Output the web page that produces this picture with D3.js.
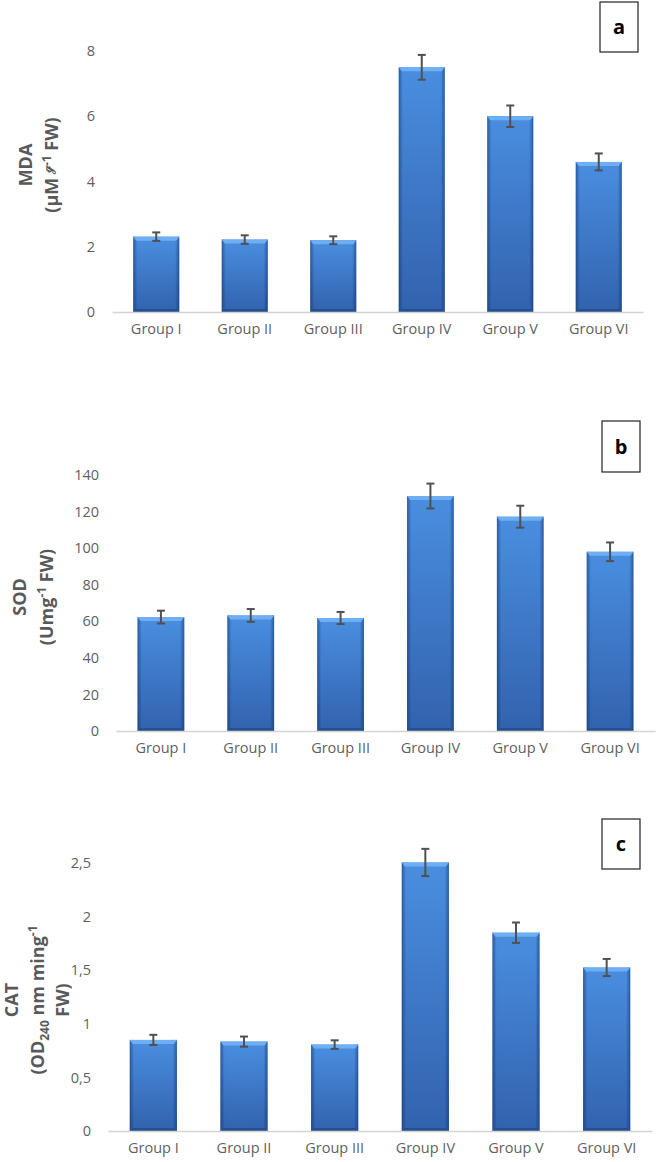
<!DOCTYPE html>
<html>
<head>
<meta charset="utf-8">
<script src="https://cdn.jsdelivr.net/npm/d3@7"></script>
<style>
  body { margin: 0; background: #fff; }
  svg { display: block; font-family: "Open Sans", sans-serif; }
</style>
</head>
<body>
<div id="wrapper"></div>
<script>
// Data
const groups = ["Group I", "Group II", "Group III", "Group IV", "Group V", "Group VI"];

const mdaValues = [2.31, 2.22, 2.2, 7.5, 6.0, 4.6];
const mdaErrors = [0.13, 0.13, 0.12, 0.38, 0.33, 0.26];
const mdaTicks = [0, 2, 4, 6, 8];

const sodValues = [62.3, 63.2, 61.8, 128.5, 117.2, 98];
const sodErrors = [3.5, 3.5, 3.3, 6.8, 6.0, 5.1];
const sodTicks = [0, 20, 40, 60, 80, 100, 120, 140];

const catValues = [0.85, 0.834, 0.806, 2.505, 1.85, 1.525];
const catErrors = [0.047, 0.047, 0.04, 0.127, 0.095, 0.08];
const catTicks = [0, 0.5, 1, 1.5, 2, 2.5];

function drawFigure() {
  const width = 657;
  const height = 1162;

  const wrapper = d3
    .select("#wrapper")
    .append("svg")
    .attr("width", width)
    .attr("height", height);

  // Bar gradients (Excel bevel look)
  const defs = wrapper.append("defs");
  const bodyGrad = defs
    .append("linearGradient")
    .attr("id", "bodyGrad")
    .attr("x1", 0).attr("y1", 0).attr("x2", 0).attr("y2", 1);
  bodyGrad.append("stop").attr("offset", "0%").attr("stop-color", "#4a8ee0");
  bodyGrad.append("stop").attr("offset", "100%").attr("stop-color", "#3262ae");

  const edgeGrad = defs
    .append("linearGradient")
    .attr("id", "edgeGrad")
    .attr("x1", 0).attr("y1", 0).attr("x2", 1).attr("y2", 0);
  edgeGrad.append("stop").attr("offset", "0%").attr("stop-color", "#0a2a60").attr("stop-opacity", 0.5);
  edgeGrad.append("stop").attr("offset", "9%").attr("stop-color", "#0a2a60").attr("stop-opacity", 0);
  edgeGrad.append("stop").attr("offset", "91%").attr("stop-color", "#0a2a60").attr("stop-opacity", 0);
  edgeGrad.append("stop").attr("offset", "100%").attr("stop-color", "#0a2a60").attr("stop-opacity", 0.5);

  const panels = [
    {
      values: mdaValues, errors: mdaErrors, ticks: mdaTicks, letter: "a",
      x0: 112, x1: 643, yBase: 312, yTop: 51,
      title: { cy: 165, lines: [
        { x: 26, parts: [["MDA"]] },
        { x: 52, parts: [["(µM "], ["ℊ", "sup"], ["-1", "sup"], [" FW)"]] }
      ] },
      box: { x: 600, y: 2, w: 38, h: 50 },
      format: (d) => d
    },
    {
      values: sodValues, errors: sodErrors, ticks: sodTicks, letter: "b",
      x0: 116, x1: 655, yBase: 731, yTop: 475,
      title: { cy: 597, lines: [
        { x: 20, parts: [["SOD"]] },
        { x: 47, parts: [["(Umg"], ["-1", "sup"], [" FW)"]] }
      ] },
      box: { x: 602, y: 421, w: 38, h: 51 },
      format: (d) => d
    },
    {
      values: catValues, errors: catErrors, ticks: catTicks, letter: "c",
      x0: 108, x1: 652, yBase: 1131, yTop: 863,
      title: { cy: 1000, lines: [
        { x: 12, parts: [["CAT"]] },
        { x: 38, parts: [["(OD"], ["240", "sub"], [" nm ming"], ["-1", "sup"]] },
        { x: 63, parts: [["FW)"]] }
      ] },
      box: { x: 602, y: 819, w: 38, h: 50 },
      format: (d) => String(d).replace(".", ",")
    }
  ];

  panels.forEach((p) => drawPanel(wrapper, p));
}

function drawPanel(svg, p) {
  const g = svg.append("g");

  // Scales
  const xScale = d3
    .scaleBand()
    .domain(groups)
    .range([p.x0, p.x1])
    .paddingInner(0.48)
    .paddingOuter(0.24);

  const yScale = d3
    .scaleLinear()
    .domain([0, d3.max(p.ticks)])
    .range([p.yBase, p.yTop]);

  // Y axis (labels only)
  const yAxis = g
    .append("g")
    .attr("transform", `translate(${p.x0},0)`)
    .call(
      d3.axisLeft(yScale).tickValues(p.ticks).tickSize(0).tickPadding(17).tickFormat(p.format)
    );
  yAxis.select(".domain").remove();
  yAxis
    .selectAll("text")
    .style("font-family", "'Open Sans', sans-serif")
    .style("font-size", "14.5px")
    .attr("fill", "#5f5f5f");

  // Bars
  const bw = xScale.bandwidth();
  const bars = g
    .selectAll(".bar")
    .data(p.values)
    .enter()
    .append("g")
    .attr("class", "bar");

  bars
    .append("rect")
    .attr("x", (d, i) => xScale(groups[i]))
    .attr("y", (d) => yScale(d))
    .attr("width", bw)
    .attr("height", (d) => p.yBase - yScale(d))
    .attr("fill", "url(#bodyGrad)");

  bars
    .append("rect")
    .attr("x", (d, i) => xScale(groups[i]))
    .attr("y", (d) => yScale(d))
    .attr("width", bw)
    .attr("height", (d) => p.yBase - yScale(d))
    .attr("fill", "url(#edgeGrad)");

  // top bevel
  bars
    .append("path")
    .attr("d", (d, i) => {
      const x = xScale(groups[i]);
      const y = yScale(d);
      return `M${x},${y}H${x + bw}L${x + bw - 3},${y + 4}H${x + 3}Z`;
    })
    .attr("fill", "#6eaef2");

  // bottom bevel
  bars
    .append("path")
    .attr("d", (d, i) => {
      const x = xScale(groups[i]);
      return `M${x},${p.yBase}H${x + bw}L${x + bw - 3},${p.yBase - 3}H${x + 3}Z`;
    })
    .attr("fill", "#24508f");

  // Error bars
  const errs = g
    .selectAll(".err")
    .data(p.values)
    .enter()
    .append("g")
    .attr("class", "err")
    .attr("stroke", "#505050")
    .attr("stroke-width", 2);

  const cx = (i) => xScale(groups[i]) + bw / 2;
  errs
    .append("line")
    .attr("x1", (d, i) => cx(i))
    .attr("x2", (d, i) => cx(i))
    .attr("y1", (d, i) => yScale(d + p.errors[i]))
    .attr("y2", (d, i) => yScale(d - p.errors[i]));
  errs
    .append("line")
    .attr("x1", (d, i) => cx(i) - 4)
    .attr("x2", (d, i) => cx(i) + 4)
    .attr("y1", (d, i) => yScale(d + p.errors[i]))
    .attr("y2", (d, i) => yScale(d + p.errors[i]));
  errs
    .append("line")
    .attr("x1", (d, i) => cx(i) - 4)
    .attr("x2", (d, i) => cx(i) + 4)
    .attr("y1", (d, i) => yScale(d - p.errors[i]))
    .attr("y2", (d, i) => yScale(d - p.errors[i]));

  // X axis
  const xAxis = g
    .append("g")
    .attr("transform", `translate(0,${p.yBase})`)
    .call(d3.axisBottom(xScale).tickSize(0).tickSizeOuter(0).tickPadding(12));
  xAxis.select(".domain").attr("stroke", "#d4d4d4").attr("stroke-width", 1.5);
  xAxis
    .selectAll("text")
    .style("font-family", "'Open Sans', sans-serif")
    .style("font-size", "14.5px")
    .attr("fill", "#5f5f5f");

  // Y title, built from parts with sub/superscripts
  p.title.lines.forEach((line) => {
    const t = g
      .append("text")
      .attr("transform", `translate(${line.x},${p.title.cy}) rotate(-90)`)
      .attr("text-anchor", "middle")
      .attr("dy", "0.36em")
      .attr("fill", "#595959")
      .style("font-size", "18px")
      .style("font-weight", "bold");
    let shift = 0;
    line.parts.forEach(([s, kind]) => {
      const ts = t.append("tspan").text(s);
      const target = kind === "sup" ? -7 : kind === "sub" ? 5 : 0;
      if (target !== shift) ts.attr("dy", target - shift);
      shift = target;
      if (kind) ts.style("font-size", "12px");
    });
  });

  // Panel letter box
  g.append("rect")
    .attr("x", p.box.x)
    .attr("y", p.box.y)
    .attr("width", p.box.w)
    .attr("height", p.box.h)
    .attr("fill", "#fff")
    .attr("stroke", "#222")
    .attr("stroke-width", 1.2);
  g.append("text")
    .attr("x", p.box.x + p.box.w / 2)
    .attr("y", p.box.y + p.box.h / 2)
    .attr("dy", "0.36em")
    .attr("text-anchor", "middle")
    .style("font-family", "'Open Sans', sans-serif")
    .style("font-size", "20px")
    .style("font-weight", "bold")
    .attr("fill", "#000")
    .text(p.letter);
}

drawFigure();
</script>
</body>
</html>
